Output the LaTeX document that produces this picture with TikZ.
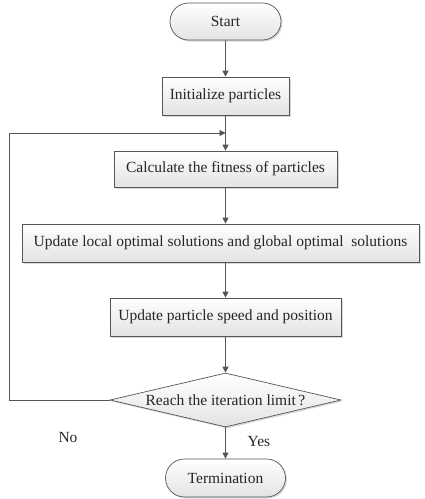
\documentclass[tikz,border=0pt]{standalone}
\usepackage{fontspec}
\setmainfont{Liberation Serif}
\usetikzlibrary{shapes.geometric,shapes.misc,shadows,arrows.meta}
\definecolor{linegray}{HTML}{555555}
\tikzset{
  box/.style={draw=linegray, line width=0.7pt, top color=white, bottom color=gray!22,
    drop shadow={shadow xshift=1.5pt, shadow yshift=-1.5pt, fill=gray!50, opacity=0.6},
    inner sep=0pt, font=\fontsize{15.5}{18}\selectfont, text=black!85},
  rbox/.style={box, rectangle},
  term/.style={box, rounded rectangle},
  dec/.style={box, diamond, aspect=4.3},
  conn/.style={draw=linegray, line width=0.8pt, -{Triangle[length=6pt,width=6pt]}},
  lbl/.style={font=\fontsize{15.5}{18}\selectfont, text=black!85}
}
\begin{document}
\begin{tikzpicture}[x=1pt,y=-1pt]
\useasboundingbox (0,0) rectangle (424,499);
\node[term, minimum width=111pt, minimum height=37pt] (start) at (225.5,21.5) {Start};
\node[rbox, minimum width=127pt, minimum height=38pt] (init) at (225.5,96) {Initialize particles};
\node[rbox, minimum width=223pt, minimum height=36pt] (calc) at (225.5,169) {Calculate the fitness of particles};
\node[rbox, minimum width=397pt, minimum height=38pt] (upd) at (220.5,243) {Update local optimal solutions and global optimal\ \ solutions};
\node[rbox, minimum width=231pt, minimum height=38pt] (speed) at (225.5,317) {Update particle speed and position};
\node[dec, minimum width=231pt, minimum height=54pt] (reach) at (225.5,400) {Reach the iteration limit\,?};
\node[term, minimum width=120pt, minimum height=38pt] (end) at (225.5,478) {Termination};
\coordinate (merge) at (225.5,133);
\coordinate (corner) at (9,400);
\coordinate (cornertop) at (9,133);
\draw[conn] (start) -- (init);
\draw[draw=linegray, line width=0.8pt] (init) -- (merge);
\draw[conn] (merge) -- (calc);
\draw[conn] (calc) -- (calc.south |- upd.north);
\draw[conn] (calc.south |- upd.south) -- (speed);
\draw[conn] (speed) -- (reach);
\draw[conn] (reach) -- (end);
\draw[conn] (reach.west) -- (corner) -- (cornertop) -- (merge);
\node[lbl] (no) at (68,437) {No};
\node[lbl] (yes) at (259,441) {Yes};
\end{tikzpicture}
\end{document}
